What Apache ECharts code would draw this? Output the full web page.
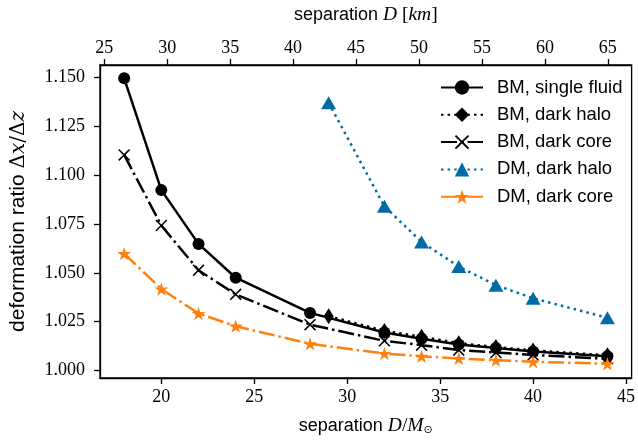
<!DOCTYPE html>
<html><head><meta charset="utf-8">
<script src="https://cdn.jsdelivr.net/npm/echarts@6/dist/echarts.min.js"></script>
<style>html,body{margin:0;padding:0;background:#fff}#c{width:638px;height:441px}</style>
</head><body><div id="c"></div><script>
// Data
const xMain = [18, 20, 22, 24, 28, 32, 34, 36, 38, 40, 44];
const bmSingle = [1.1495, 1.0923, 1.0648, 1.0475, 1.0295, 1.0195, 1.0163, 1.0133, 1.0115, 1.0098, 1.0073];
const bmCore = [1.1103, 1.0742, 1.0513, 1.0390, 1.0235, 1.0152, 1.0130, 1.0105, 1.0092, 1.0080, 1.0060];
const dmCore = [1.0598, 1.0417, 1.0292, 1.0227, 1.0137, 1.0087, 1.0073, 1.0062, 1.0053, 1.0045, 1.0035];
const xHalo = [29, 32, 34, 36, 38, 40, 44];
const bmHalo = [1.0278, 1.0203, 1.0173, 1.0140, 1.0120, 1.0103, 1.0078];
const dmHalo = [1.1370, 1.0840, 1.0658, 1.0532, 1.0437, 1.0370, 1.0270];
const seriesNames = ['BM, single fluid', 'BM, dark halo', 'BM, dark core', 'DM, dark halo', 'DM, dark core'];
const bottomTicks = [20, 25, 30, 35, 40, 45];
const topTicks = [25, 30, 35, 40, 45, 50, 55, 60, 65];
const yTicks = [1.000, 1.025, 1.050, 1.075, 1.100, 1.125, 1.150];
const KM_PER_MSUN = 1.4766;
const xMin = 16.7, xMax = 45.3, yMin = 0.9962, yMax = 1.1563;

const pair = (xs, ys) => xs.map((x, i) => [x, ys[i]]);
const BLUE = '#006BA4', ORANGE = '#FF800E';
const LW = 2.5;
const dashDot = [16, 4, 2.5, 4];
const dotted = [2.5, 4.1];
const xPath = 'path://M0,1.1L1.1,0L6,4.9L10.9,0L12,1.1L7.1,6L12,10.9L10.9,12L6,7.1L1.1,12L0,10.9L4.9,6Z';
const starPath = 'path://M0,-100L22.45,-30.9L95.1,-30.9L36.3,11.8L58.8,80.9L0,38.2L-58.8,80.9L-36.3,11.8L-95.1,-30.9L-22.45,-30.9Z';

const serifTick = {fontFamily: 'Liberation Serif', fontSize: 18, color: '#000'};
const rich = {
  s: {fontFamily: 'Liberation Sans', fontSize: 18, color: '#000'},
  i: {fontFamily: 'Liberation Serif', fontStyle: 'italic', fontSize: 19.5, color: '#000'},
  m: {fontFamily: 'Liberation Serif', fontSize: 19.5, color: '#000'},
  sub: {fontFamily: 'DejaVu Sans', fontSize: 11, color: '#000', padding: [9, 0, 0, 0]}
};
const richY = {
  s: {fontFamily: 'Liberation Sans', fontSize: 21, color: '#000'},
  i: {fontFamily: 'DejaVu Serif', fontStyle: 'italic', fontSize: 20, color: '#000'},
  m: {fontFamily: 'DejaVu Serif', fontSize: 20, color: '#000'}
};
const axisCommon = {
  type: 'value',
  splitLine: {show: false},
  axisLine: {show: true, onZero: false, lineStyle: {color: '#000', width: 1.3}},
  axisTick: {show: true, inside: false, length: 6, lineStyle: {color: '#000', width: 1.3}},
};

const chart = echarts.init(document.getElementById('c'), null, {renderer: 'canvas'});
chart.setOption({
  animation: false,
  backgroundColor: '#fff',
  grid: {left: 97, right: 3, top: 62, bottom: 59, show: true, borderColor: '#000', borderWidth: 1.3, backgroundColor: 'transparent'},
  legend: {
    data: seriesNames, orient: 'vertical', left: 435, top: 73, itemGap: 8.3,
    itemWidth: 42, itemHeight: 18,
    textStyle: {fontFamily: 'Liberation Sans', fontSize: 18.5, lineHeight: 18, color: '#000', padding: [0, 0, 0, 9]}
  },
  xAxis: [
    Object.assign({}, axisCommon, {
      position: 'bottom', min: xMin, max: xMax,
      axisTick: Object.assign({}, axisCommon.axisTick, {customValues: bottomTicks}),
      axisLabel: Object.assign({}, serifTick, {customValues: bottomTicks, margin: 10, formatter: v => String(v)}),
      name: '{s|separation }{i|D}{m|/}{i|M}{sub|⊙}',
      nameLocation: 'middle', nameGap: 38, nameTextStyle: {rich: rich}
    }),
    Object.assign({}, axisCommon, {
      position: 'top', min: xMin * KM_PER_MSUN, max: xMax * KM_PER_MSUN,
      axisTick: Object.assign({}, axisCommon.axisTick, {customValues: topTicks}),
      axisLabel: Object.assign({}, serifTick, {customValues: topTicks, margin: 8, formatter: v => String(v)}),
      name: '{s|separation }{i|D}{m| [}{i|km}{m|]}',
      nameLocation: 'middle', nameGap: 40, nameTextStyle: {rich: rich}
    })
  ],
  yAxis: [
    Object.assign({}, axisCommon, {
      position: 'left', min: yMin, max: yMax,
      axisTick: Object.assign({}, axisCommon.axisTick, {customValues: yTicks}),
      axisLabel: Object.assign({}, serifTick, {customValues: yTicks, margin: 15, formatter: v => v.toFixed(3)}),
      name: '{s|deformation ratio }{m|Δ}{i|x}{m|/Δ}{i|z}',
      nameLocation: 'middle', nameGap: 71, nameTextStyle: {rich: richY}
    })
  ],
  series: [
    {name: seriesNames[0], type: 'line', data: pair(xMain, bmSingle), symbol: 'circle', symbolSize: 12,
      itemStyle: {color: '#000'}, lineStyle: {color: '#000', width: LW, type: 'solid'}, z: 2},
    {name: seriesNames[1], type: 'line', data: pair(xHalo, bmHalo), symbol: 'diamond', symbolSize: [10, 16],
      itemStyle: {color: '#000'}, lineStyle: {color: '#000', width: LW, type: dotted}, z: 3},
    {name: seriesNames[2], type: 'line', data: pair(xMain, bmCore), symbol: xPath, symbolSize: 12,
      itemStyle: {color: '#000'}, lineStyle: {color: '#000', width: LW, type: dashDot}, z: 4},
    {name: seriesNames[3], type: 'line', data: pair(xHalo, dmHalo), symbol: 'triangle', symbolSize: [15, 13],
      itemStyle: {color: BLUE}, lineStyle: {color: BLUE, width: LW, type: dotted}, z: 5},
    {name: seriesNames[4], type: 'line', data: pair(xMain, dmCore), symbol: starPath, symbolSize: [14, 13.3],
      itemStyle: {color: ORANGE}, lineStyle: {color: ORANGE, width: LW, type: dashDot}, z: 6}
  ]
});
</script></body></html>
